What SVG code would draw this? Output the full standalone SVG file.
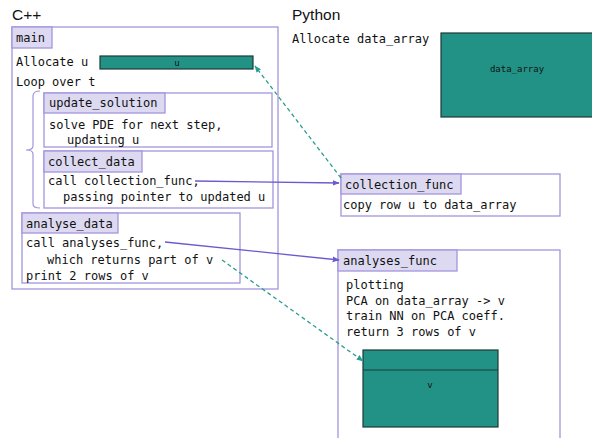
<svg xmlns="http://www.w3.org/2000/svg" width="592" height="438" viewBox="0 0 592 438">
<defs>
<style>
.box{fill:#ffffff;stroke:#a395de;stroke-width:1.3}
.hdr{fill:#dcd9f1;stroke:#a395de;stroke-width:1.3}
.mono{font-family:"DejaVu Sans Mono","Liberation Mono",monospace;font-size:12px;fill:#111}
.small{font-family:"DejaVu Sans Mono","Liberation Mono",monospace;font-size:9px;fill:#111;text-anchor:middle}
.lang{font-family:"Liberation Sans",Arial,sans-serif;font-size:15.5px;fill:#111}
.arr{fill:#239286;stroke:#1d3a36;stroke-width:1.2}
.call{stroke:#6a5acd;stroke-width:1.3;fill:none}
.ref{stroke:#2a9d8f;stroke-width:1.3;fill:none;stroke-dasharray:4 3}
</style>
<marker id="mp" viewBox="0 0 10 10" refX="9" refY="5" markerWidth="7" markerHeight="7" orient="auto" markerUnits="userSpaceOnUse">
<path d="M0,1 L10,5 L0,9 z" fill="#6a5acd"/>
</marker>
<marker id="mt" viewBox="0 0 10 10" refX="9" refY="5" markerWidth="7" markerHeight="7" orient="auto" markerUnits="userSpaceOnUse">
<path d="M0,1 L10,5 L0,9 z" fill="#2a9d8f"/>
</marker>
</defs>
<rect width="592" height="438" fill="#ffffff"/>
<text class="lang" x="12" y="20">C++</text>
<text class="lang" x="292" y="20">Python</text>

<g id="main">
<rect class="box" x="12" y="27" width="266" height="262"/>
<rect class="hdr" x="12" y="27" width="40" height="21"/>
<text class="mono" x="16" y="42">main</text>
<text class="mono" x="16" y="66">Allocate u</text>
<text class="mono" x="16" y="86">Loop over t</text>
<path d="M40,91 Q33,91 33,96 L33,146 Q33,150 26,150 Q33,150 33,154 L33,204 Q33,208 40,208" fill="none" stroke="#a395de" stroke-width="1.2"/>
</g>

<g id="u">
<rect class="arr" x="100" y="56" width="153" height="13"/>
<text class="small" x="177" y="66">u</text>
</g>

<g id="update_solution">
<rect class="box" x="44" y="93" width="228" height="54"/>
<rect class="hdr" x="44" y="93" width="121" height="20"/>
<text class="mono" x="49" y="107">update_solution</text>
<text class="mono" x="49" y="129">solve PDE for next step,</text>
<text class="mono" x="67" y="144">updating u</text>
</g>

<g id="collect_data">
<rect class="box" x="44" y="151" width="229" height="57"/>
<rect class="hdr" x="44" y="151" width="98" height="21"/>
<text class="mono" x="48" y="166">collect_data</text>
<text class="mono" x="48" y="185">call collection_func,</text>
<text class="mono" x="63" y="201">passing pointer to updated u</text>
</g>

<g id="analyse_data">
<rect class="box" x="22" y="213" width="218" height="70"/>
<rect class="hdr" x="22" y="213" width="96" height="20"/>
<text class="mono" x="26" y="228">analyse_data</text>
<text class="mono" x="26" y="247">call analyses_func,</text>
<text class="mono" x="47" y="264">which returns part of v</text>
<text class="mono" x="26" y="280">print 2 rows of v</text>
</g>

<g id="python_alloc">
<text class="mono" x="292" y="43">Allocate data_array</text>
</g>

<g id="data_array">
<rect class="arr" x="441" y="33" width="152" height="84"/>
<text class="small" x="517" y="72">data_array</text>
</g>

<g id="collection_func">
<rect class="box" x="341" y="174" width="219" height="42"/>
<rect class="hdr" x="341" y="174" width="120" height="20"/>
<text class="mono" x="345" y="189">collection_func</text>
<text class="mono" x="343" y="209">copy row u to data_array</text>
</g>

<g id="analyses_func">
<rect class="box" x="338" y="250" width="222" height="200"/>
<rect class="hdr" x="338" y="250" width="119" height="21"/>
<text class="mono" x="343" y="265">analyses_func</text>
<text class="mono" x="346" y="289">plotting</text>
<text class="mono" x="346" y="305">PCA on data_array -&gt; v</text>
<text class="mono" x="346" y="320">train NN on PCA coeff.</text>
<text class="mono" x="346" y="336">return 3 rows of v</text>
</g>

<g id="v">
<rect class="arr" x="363" y="350" width="135" height="77"/>
<line x1="363" y1="370" x2="498" y2="370" stroke="#1d3a36" stroke-width="1.2"/>
<text class="small" x="430" y="388">v</text>
</g>

<g id="connectors">
<line class="ref" x1="341" y1="178" x2="255" y2="66" marker-end="url(#mt)"/>
<line class="call" x1="195" y1="181" x2="339" y2="183" marker-end="url(#mp)"/>
<line class="call" x1="165" y1="242" x2="339" y2="260" marker-end="url(#mp)"/>
<line class="ref" x1="222" y1="260" x2="363" y2="361" marker-end="url(#mt)"/>
</g>
</svg>
